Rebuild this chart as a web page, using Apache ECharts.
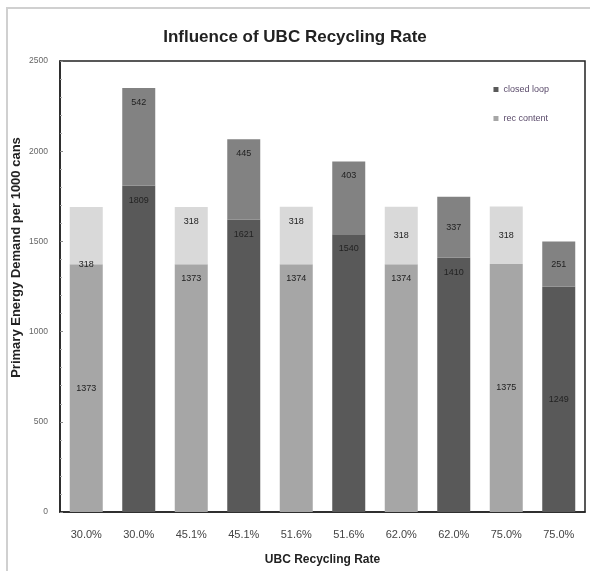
<!DOCTYPE html>
<html>
<head>
<meta charset="utf-8">
<script src="https://cdn.jsdelivr.net/npm/echarts@6/dist/echarts.min.js"></script>
<style>
html,body{margin:0;padding:0;background:#fff;}
#chart{width:590px;height:571px;}
</style>
</head>
<body>
<div id="chart"></div>
<script>
var categories = ['30.0%','30.0%','45.1%','45.1%','51.6%','51.6%','62.0%','62.0%','75.0%','75.0%'];
var recContentBase = [1373, null, 1373, null, 1374, null, 1374, null, 1375, null];
var recContentTop  = [318, null, 318, null, 318, null, 318, null, 318, null];
var closedLoopBase = [null, 1809, null, 1621, null, 1540, null, 1410, null, 1249];
var closedLoopTop  = [null, 542, null, 445, null, 403, null, 337, null, 251];
var yTicks = [0, 500, 1000, 1500, 2000, 2500];

var FONT = "'Liberation Sans Narrow','Arial Narrow','Liberation Sans',Arial,sans-serif";

function build(values, posFn) {
  return values.map(function (v, i) {
    if (v == null) return null;
    var p = posFn(i);
    return { value: v, label: { position: p.pos, distance: p.d } };
  });
}
var baseInsideIdx = [0, 8, 9];
var topMiddleIdx = [6, 7, 8, 9];

var labelStyle = { show: true, fontSize: 9, color: '#222', fontFamily: FONT };

var chart = echarts.init(document.getElementById('chart'));
chart.setOption({
  animation: false,
  backgroundColor: '#fff',
  graphic: [{
    type: 'rect', shape: { x: 7, y: 8, width: 600, height: 600 },
    style: { fill: 'none', stroke: '#d0d0d0', lineWidth: 2 }, silent: true, z: -1
  }],
  title: {
    text: 'Influence of UBC Recycling Rate', left: 'center', top: 24,
    textStyle: { fontSize: 17, fontWeight: 'bold', color: '#222', fontFamily: FONT }
  },
  legend: {
    orient: 'vertical', right: 36, top: 80, itemGap: 20,
    itemWidth: 5, itemHeight: 5, icon: 'rect',
    data: ['closed loop', 'rec content'],
    textStyle: { fontSize: 9, color: '#5a4a6a', fontFamily: FONT }
  },
  grid: {
    left: 60, right: 5, top: 61, bottom: 59,
    containLabel: false, outerBoundsMode: 'none',
    show: true, borderColor: '#222', borderWidth: 1.5, backgroundColor: 'transparent'
  },
  xAxis: {
    type: 'category', data: categories,
    name: 'UBC Recycling Rate', nameLocation: 'middle', nameGap: 42,
    nameTextStyle: { fontSize: 12, fontWeight: 'bold', color: '#222', fontFamily: FONT },
    axisLine: { lineStyle: { color: '#222', width: 1.5 } },
    axisTick: { show: false },
    axisLabel: { fontSize: 11, color: '#444', margin: 17, fontFamily: FONT }
  },
  yAxis: {
    type: 'value', min: yTicks[0], max: yTicks[yTicks.length - 1], interval: 500,
    name: 'Primary Energy Demand per 1000 cans', nameLocation: 'middle', nameGap: 37,
    nameMoveOverlap: false,
    nameTextStyle: { fontSize: 13, fontWeight: 'bold', color: '#222',
      fontFamily: 'Liberation Sans, Arial, sans-serif', padding: [0, 0, 0, 58] },
    axisLine: { show: true, lineStyle: { color: '#222', width: 1.5 } },
    axisTick: { show: true, inside: true, length: 3, lineStyle: { color: '#888' } },
    minorTick: { show: true, splitNumber: 5, length: 2, lineStyle: { color: '#aaa' } },
    splitLine: { show: false },
    axisLabel: { fontSize: 8.5, color: '#666', margin: 12, fontFamily: FONT,
      formatter: function (v) { return String(v); } }
  },
  series: [
    {
      name: 'rec content', type: 'bar', stack: 'total', barWidth: 33,
      itemStyle: { color: '#a6a6a6' },
      label: labelStyle,
      data: build(recContentBase, function (i) {
        return baseInsideIdx.indexOf(i) >= 0 ? { pos: 'inside', d: 5 } : { pos: 'insideTop', d: 10 };
      })
    },
    {
      name: 'rec content top', type: 'bar', stack: 'total', barWidth: 33,
      itemStyle: { color: '#d9d9d9' },
      label: labelStyle,
      data: build(recContentTop, function (i) {
        if (i === 0) return { pos: 'insideBottom', d: -5 };
        return topMiddleIdx.indexOf(i) >= 0 ? { pos: 'inside', d: 5 } : { pos: 'insideTop', d: 10 };
      })
    },
    {
      name: 'closed loop', type: 'bar', stack: 'total', barWidth: 33,
      itemStyle: { color: '#595959' },
      label: labelStyle,
      data: build(closedLoopBase, function (i) {
        return baseInsideIdx.indexOf(i) >= 0 ? { pos: 'inside', d: 5 } : { pos: 'insideTop', d: 10 };
      })
    },
    {
      name: 'closed loop top', type: 'bar', stack: 'total', barWidth: 33,
      itemStyle: { color: '#828282' },
      label: labelStyle,
      data: build(closedLoopTop, function (i) {
        return topMiddleIdx.indexOf(i) >= 0 ? { pos: 'inside', d: 5 } : { pos: 'insideTop', d: 10 };
      })
    }
  ]
});
</script>
</body>
</html>
